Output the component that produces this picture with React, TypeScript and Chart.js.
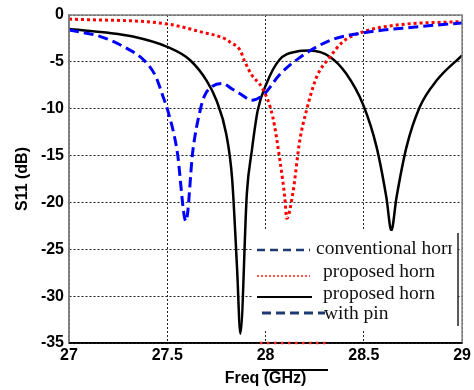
import React, { useEffect, useRef } from 'react';
import { Chart, registerables } from 'chart.js';

Chart.register(...registerables);

// Axis ticks
const freqTicks = [27, 27.5, 28, 28.5, 29];
const dbTicks = [0, -5, -10, -15, -20, -25, -30, -35];

// Conventional horn (blue dashed)
const convFreq = [27.0, 27.16, 27.28, 27.38, 27.44, 27.48, 27.5, 27.55, 27.595, 27.63, 27.667, 27.69, 27.73, 27.78, 27.83, 27.87, 27.93, 27.995, 28.07, 28.17, 28.33, 28.5, 28.75, 29.0];
const convS11 = [-1.6, -2.3, -3.4, -4.8, -6.5, -8.8, -10, -14.5, -22, -14.5, -10.2, -8.6, -7.6, -7.3, -7.9, -8.4, -9.1, -8.4, -6.4, -4.6, -2.7, -1.9, -1.3, -0.85];

// Proposed horn (red dotted)
const propFreq = [27.0, 27.5, 27.67, 27.8, 27.82, 27.87, 27.895, 27.93, 27.986, 28.037, 28.073, 28.098, 28.108, 28.139, 28.174, 28.208, 28.26, 28.327, 28.393, 28.495, 28.667, 29.0];
const propS11 = [-0.43, -0.96, -1.8, -2.6, -2.9, -3.75, -5.0, -6.4, -7.9, -10.9, -15.5, -19.5, -21.7, -19.0, -13.4, -10.2, -6.6, -4.5, -2.86, -1.8, -1.07, -0.7];

// Proposed horn with pin (black solid)
const pinFreq = [27.0, 27.2, 27.325, 27.5, 27.615, 27.7, 27.75, 27.8, 27.83, 27.855, 27.872, 27.905, 27.93, 27.96, 28.005, 28.07, 28.16, 28.225, 28.33, 28.41, 28.495, 28.565, 28.615, 28.64, 28.666, 28.717, 28.785, 28.87, 29.0];
const pinS11 = [-1.5, -1.9, -2.3, -3.4, -4.8, -7.0, -9.1, -12.7, -17.5, -27.0, -34.0, -19.0, -14.5, -10.2, -7.3, -4.8, -3.9, -3.8, -4.5, -6.25, -9.5, -14.1, -19.5, -23.0, -19.5, -14.1, -9.8, -7.0, -4.3];

const legendLabels = ['conventional horn', 'proposed horn', 'proposed horn', 'with pin'];

const zip = (xs: number[], ys: number[]) => xs.map((x, i) => ({ x, y: ys[i] }));

const NAVY = '#1f3a70';

// Frame, pasted legend box and the small annotation strokes
const overlayPlugin = {
  id: 'overlay',
  afterDraw(chart: any) {
    const { ctx, chartArea: a } = chart;
    ctx.save();
    // gray frame on top/left/right, black bottom axis
    ctx.setLineDash([]);
    ctx.strokeStyle = '#7f7f7f';
    ctx.lineWidth = 1.5;
    ctx.beginPath();
    ctx.moveTo(a.left, a.bottom);
    ctx.lineTo(a.left, a.top);
    ctx.lineTo(a.right, a.top);
    ctx.lineTo(a.right, a.bottom);
    ctx.stroke();
    ctx.strokeStyle = '#000';
    ctx.beginPath();
    ctx.moveTo(a.left, a.bottom);
    ctx.lineTo(a.right, a.bottom);
    ctx.stroke();

    // legend box
    ctx.fillStyle = '#fff';
    ctx.fillRect(252, 231, 206, 98);
    ctx.strokeStyle = '#222';
    ctx.lineWidth = 1.5;
    ctx.beginPath();
    ctx.moveTo(458, 233);
    ctx.lineTo(458, 326);
    ctx.stroke();

    const seg = (x1: number, x2: number, y: number, color: string, w: number, dash: number[]) => {
      ctx.strokeStyle = color;
      ctx.lineWidth = w;
      ctx.setLineDash(dash);
      ctx.beginPath();
      ctx.moveTo(x1, y);
      ctx.lineTo(x2, y);
      ctx.stroke();
    };
    seg(257, 310, 250, NAVY, 2.5, [8, 5]);
    seg(257, 310, 276, '#ff2020', 1.5, [2, 2]);
    seg(257, 312, 297, '#000', 2, []);
    seg(262, 325, 313, NAVY, 3, [9, 5]);

    ctx.setLineDash([]);
    ctx.fillStyle = '#111';
    ctx.font = '19.5px "Liberation Serif", "Times New Roman", serif';
    ctx.textBaseline = 'alphabetic';
    ctx.textAlign = 'left';
    ctx.save();
    ctx.beginPath();
    ctx.rect(252, 231, 200, 98);
    ctx.clip();
    ctx.fillText(legendLabels[0], 316, 254);
    ctx.restore();
    ctx.fillText(legendLabels[1], 323, 277);
    ctx.fillText(legendLabels[2], 323, 299);
    ctx.fillText(legendLabels[3], 324, 319);

    // red dotted stroke on the axis and bar above the axis title
    seg(260, 330, 343, '#ff2020', 2.5, [2.5, 4.5]);
    seg(262, 328, 370, '#000', 2, []);
    ctx.restore();
  },
};

export default function App() {
  const ref = useRef<HTMLCanvasElement>(null);

  useEffect(() => {
    if (!ref.current) return;
    const tickFont = { family: '"Liberation Sans", Arial, sans-serif', weight: 'bold' as const, size: 16 };
    const chart = new Chart(ref.current, {
      type: 'line',
      data: {
        datasets: [
          {
            label: 'conventional horn',
            data: zip(convFreq, convS11),
            borderColor: '#0000ff',
            borderWidth: 3,
            borderDash: [10, 5],
            pointRadius: 0,
            cubicInterpolationMode: 'monotone',
          },
          {
            label: 'proposed horn',
            data: zip(propFreq, propS11),
            borderColor: '#ff0000',
            borderWidth: 3,
            borderDash: [3, 3],
            pointRadius: 0,
            cubicInterpolationMode: 'monotone',
          },
          {
            label: 'proposed horn with pin',
            data: zip(pinFreq, pinS11),
            borderColor: '#000000',
            borderWidth: 2.5,
            pointRadius: 0,
            cubicInterpolationMode: 'monotone',
          },
        ],
      },
      options: {
        responsive: false,
        animation: false,
        layout: { padding: { top: 15, right: 11, left: 0, bottom: 0 } },
        plugins: { legend: { display: false }, tooltip: { enabled: false } },
        scales: {
          x: {
            type: 'linear',
            min: 27,
            max: 29,
            afterBuildTicks: (s: any) => {
              s.ticks = freqTicks.map((v) => ({ value: v }));
            },
            afterFit: (s: any) => {
              s.height = 47;
            },
            ticks: {
              color: '#000',
              font: tickFont,
              padding: 3,
              maxRotation: 0,
              callback: (v: any) => String(v),
            },
            grid: { color: '#222', lineWidth: 1, drawTicks: false },
            border: { color: '#000', width: 1.5, dash: [2, 2] },
            title: {
              display: true,
              text: 'Freq (GHz)',
              color: '#000',
              font: { family: '"Liberation Sans", Arial, sans-serif', weight: 'bold', size: 16 },
              padding: { top: 0, bottom: 2 },
            },
          },
          y: {
            type: 'linear',
            min: -35,
            max: 0,
            afterBuildTicks: (s: any) => {
              s.ticks = dbTicks.map((v) => ({ value: v }));
            },
            afterFit: (s: any) => {
              s.width = 69;
            },
            ticks: {
              color: '#000',
              font: tickFont,
              padding: 5,
              callback: (v: any) => String(v),
            },
            grid: { color: '#222', lineWidth: 1, drawTicks: false },
            border: { color: '#7f7f7f', width: 1.5, dash: [2, 2] },
            title: {
              display: true,
              text: 'S11 (dB)',
              color: '#000',
              font: { family: '"Liberation Sans", Arial, sans-serif', weight: 'bold', size: 16 },
              padding: { top: 13, bottom: 0 },
            },
          },
        },
      },
      plugins: [overlayPlugin],
    });
    return () => chart.destroy();
  }, []);

  return (
    <div style={{ position: 'fixed', left: 0, top: 0, width: 474, height: 390, background: '#fff' }}>
      <canvas ref={ref} width={474} height={390} style={{ width: 474, height: 390, display: 'block' }} />
    </div>
  );
}
